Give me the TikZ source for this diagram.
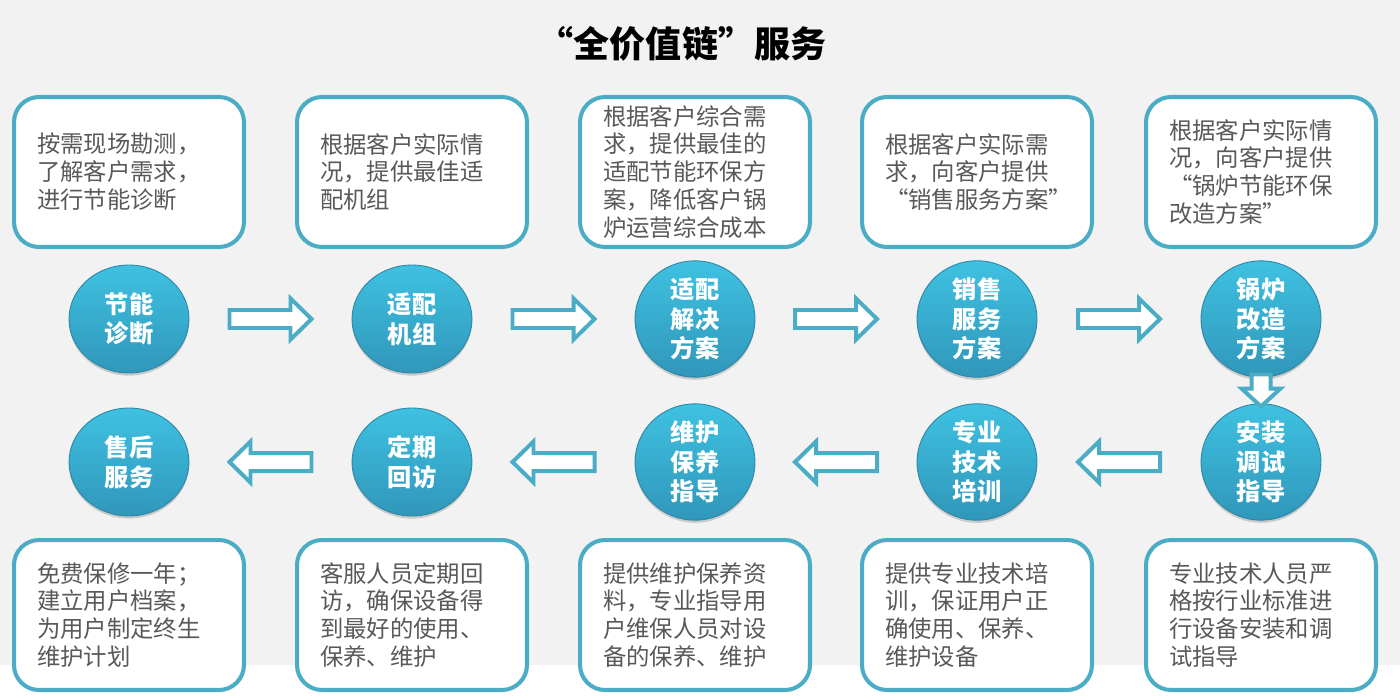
\documentclass[tikz,border=0pt]{standalone}
\usepackage{fontspec}
\setmainfont{Noto Sans CJK SC}
\usepackage{xcolor}
\usetikzlibrary{shapes.geometric,calc,shadows}
\definecolor{rim}{HTML}{4BACC6}
\definecolor{ink}{HTML}{595959}
\definecolor{balltop}{HTML}{3FC1E1}
\definecolor{ballbot}{HTML}{3097BA}
\definecolor{ballrim}{HTML}{2C86A6}
\definecolor{paper}{HTML}{F2F2F2}
\tikzset{
  note/.style={rectangle,draw=rim,line width=2.3pt,fill=white,rounded corners=0.5cm,minimum width=4.6cm,minimum height=3cm,text width=3.68cm,inner xsep=0.46cm,inner ysep=0pt,align=left,text=ink,font=\fontsize{13.3}{15.9}\selectfont},
  stage/.style={ellipse,draw=ballrim,line width=0.5pt,top color=balltop,bottom color=ballbot,minimum width=2.4cm,minimum height=2.16cm,inner sep=0pt,align=center,text=white,font=\bfseries\fontsize{13.8}{16.8}\selectfont,drop shadow={shadow xshift=0pt,shadow yshift=-1.5pt,opacity=.35}},
  hollow/.style={draw=rim,line width=2.27pt,fill=white,line join=miter},
  pics/flowarrow/.style={code={\draw[hollow] (-41,-9) -- (20,-9) -- (20,-20.5) -- (41,0) -- (20,20.5) -- (20,9) -- (-41,9) -- cycle;}},
  pics/droparrow/.style={code={\draw[hollow] (-9.5,-16) -- (9.5,-16) -- (9.5,-2) -- (19.5,-2) -- (0,16) -- (-19.5,-2) -- (-9.5,-2) -- cycle;}}
}
\begin{document}
\begin{tikzpicture}[x=0.02cm,y=-0.02cm]
  \fill[paper] (0,0) rectangle (1400,700);
  \fill[white] (0,665) rectangle (1400,700);
  \useasboundingbox (0,0) rectangle (1400,700);
  \node[font=\bfseries\fontsize{20.5}{24}\selectfont] (title) at (682,44) {“全价值链”服务};
  % top row
  \node[note] (n1) at (129,172) {按需现场勘测，\\了解客户需求，\\进行节能诊断};
  \node[note] (n2) at (412,172) {根据客户实际情\\况，提供最佳适\\配机组};
  \node[note] (n3) at (695,172) {根据客户综合需\\求，提供最佳的\\适配节能环保方\\案，降低客户锅\\炉运营综合成本};
  \node[note] (n4) at (977,172) {根据客户实际需\\求，向客户提供\\“销售服务方案”};
  \node[note] (n5) at (1261,172) {根据客户实际情\\况，向客户提供\\“锅炉节能环保\\改造方案”};
  \node[stage] (s1) at (129,319) {节能\\诊断};
  \node[stage] (s2) at (412,319) {适配\\机组};
  \node[stage] (s3) at (695,319) {适配\\解决\\方案};
  \node[stage] (s4) at (977,319) {销售\\服务\\方案};
  \node[stage] (s5) at (1261,319) {锅炉\\改造\\方案};
  \pic at ($(s1)!.5!(s2)$) {flowarrow};
  \pic at ($(s2)!.5!(s3)$) {flowarrow};
  \pic at ($(s3)!.5!(s4)$) {flowarrow};
  \pic at ($(s4)!.5!(s5)$) {flowarrow};
  % bottom row
  \node[stage] (t1) at (129,462) {售后\\服务};
  \node[stage] (t2) at (412,462) {定期\\回访};
  \node[stage] (t3) at (695,462) {维护\\保养\\指导};
  \node[stage] (t4) at (977,462) {专业\\技术\\培训};
  \node[stage] (t5) at (1261,462) {安装\\调试\\指导};
  \pic at ($(s5)!.5!(t5)$) {droparrow};
  \pic[rotate=180] at ($(t5)!.5!(t4)$) {flowarrow};
  \pic[rotate=180] at ($(t4)!.5!(t3)$) {flowarrow};
  \pic[rotate=180] at ($(t3)!.5!(t2)$) {flowarrow};
  \pic[rotate=180] at ($(t2)!.5!(t1)$) {flowarrow};
  \node[note] (m1) at (129,615) {免费保修一年；\\建立用户档案，\\为用户制定终生\\维护计划};
  \node[note] (m2) at (412,615) {客服人员定期回\\访，确保设备得\\到最好的使用、\\保养、维护};
  \node[note] (m3) at (695,615) {提供维护保养资\\料，专业指导用\\户维保人员对设\\备的保养、维护};
  \node[note] (m4) at (977,615) {提供专业技术培\\训，保证用户正\\确使用、保养、\\维护设备};
  \node[note] (m5) at (1261,615) {专业技术人员严\\格按行业标准进\\行设备安装和调\\试指导};
\end{tikzpicture}
\end{document}
